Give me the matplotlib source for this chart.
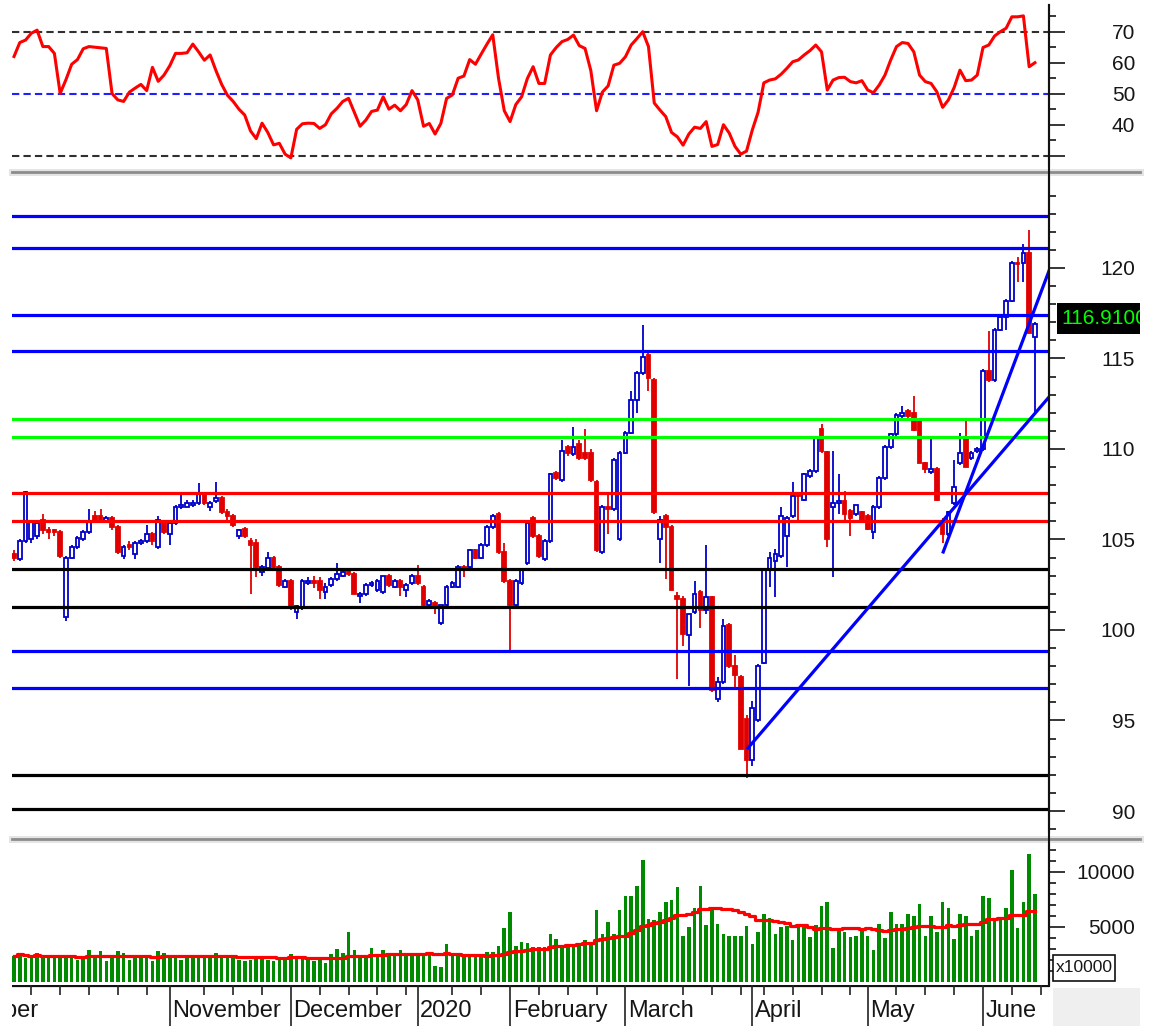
import numpy as np
import pandas as pd
import matplotlib
matplotlib.use("Agg")
import matplotlib.pyplot as plt
from matplotlib.lines import Line2D
from matplotlib.patches import Rectangle

plt.rcParams['font.family'] = ['Liberation Sans', 'DejaVu Sans']

# ---- daily bars (late Sep 2019 .. mid June 2020) ----
opens = [104.2, 103.9, 104.9, 105.0, 105.2, 106.1, 105.5, 105.5, 105.4, 100.7,
         104.0, 104.6, 105.0, 105.4, 106.3, 106.3, 106.0, 106.2, 105.7, 104.1,
         104.7, 104.2, 104.8, 104.9, 105.3, 104.6, 106.0, 105.3, 105.9, 106.8,
         106.8, 106.9, 107.0, 107.5, 106.8, 107.1, 107.3, 106.5, 106.3, 105.2,
         105.6, 104.9, 104.8, 103.2, 103.4, 104.0, 103.5, 102.4, 102.7, 101.0,
         101.2, 102.6, 102.7, 102.7, 102.1, 102.5, 102.8, 103.0, 103.3, 103.1,
         101.9, 102.0, 102.5, 102.2, 102.1, 103.0, 102.4, 102.7, 102.2, 102.6,
         103.0, 102.4, 101.4, 101.5, 100.4, 101.4, 102.4, 102.4, 103.5, 103.5,
         104.4, 104.0, 104.7, 105.7, 106.4, 104.3, 102.7, 101.4, 102.6, 103.7,
         106.2, 105.2, 103.9, 104.9, 108.7, 108.3, 110.1, 109.7, 110.3, 109.8,
         109.8, 108.2, 104.3, 106.8, 106.7, 105.0, 109.8, 110.9, 112.7, 114.2,
         115.2, 113.8, 105.0, 106.3, 105.7, 101.9, 101.7, 99.7, 101.0, 102.1,
         101.1, 101.8, 96.2, 97.1, 100.3, 98.0, 97.4, 95.1, 92.8, 95.0,
         98.2, 103.3, 103.8, 104.1, 105.2, 106.3, 107.55, 107.2, 108.5, 108.8,
         111.1, 109.85, 106.8, 107.0, 107.1, 106.6, 106.4, 106.5, 106.3, 105.4,
         106.8, 108.4, 110.1, 110.8, 111.8, 112.1, 112.0, 111.6, 109.2, 108.75,
         108.9, 106.0, 105.3, 107.0, 109.2, 110.6, 109.5, 109.9, 110.0, 114.3,
         113.8, 116.6, 117.3, 118.2, 120.3, 120.3, 120.8, 116.2]
highs = [104.4, 105.0, 107.7, 106.1, 106.0, 106.4, 105.7, 105.6, 105.5, 104.1,
         104.7, 105.2, 105.5, 106.7, 106.6, 106.7, 106.3, 106.3, 105.8, 104.7,
         104.9, 104.9, 105.0, 105.8, 105.4, 106.3, 106.1, 106.0, 106.9, 107.5,
         107.2, 107.2, 108.1, 107.6, 107.1, 108.2, 107.4, 106.7, 106.4, 105.6,
         105.7, 105.1, 105.0, 103.6, 104.3, 104.1, 103.6, 102.8, 102.8, 101.4,
         102.8, 102.9, 103.0, 102.9, 102.6, 102.9, 103.7, 103.3, 103.4, 103.2,
         102.1, 102.6, 102.7, 102.8, 103.0, 103.1, 102.8, 102.8, 102.6, 103.1,
         103.6, 102.5, 101.7, 101.6, 101.4, 102.5, 102.7, 103.6, 103.6, 104.5,
         104.5, 104.8, 105.8, 106.4, 106.5, 104.8, 102.8, 102.8, 103.4, 106.0,
         106.3, 105.3, 105.0, 108.7, 108.8, 110.5, 110.2, 111.2, 110.5, 111.1,
         110.0, 108.3, 106.9, 107.5, 109.5, 109.9, 111.0, 113.2, 114.3, 116.85,
         115.3, 113.9, 106.3, 106.4, 105.8, 102.1, 101.9, 100.9, 102.7, 102.2,
         104.7, 101.9, 97.4, 100.6, 100.4, 98.6, 97.5, 95.3, 96.1, 98.1,
         103.4, 104.3, 104.5, 106.8, 106.3, 108.2, 107.6, 108.7, 108.9, 110.7,
         111.4, 109.9, 109.9, 108.6, 107.7, 106.7, 106.9, 106.6, 106.4, 106.9,
         108.5, 110.2, 110.9, 112.0, 112.4, 112.2, 112.9, 111.7, 109.3, 110.6,
         109.0, 106.2, 106.6, 109.4, 110.9, 111.6, 109.9, 110.1, 114.4, 116.5,
         116.7, 117.4, 118.3, 120.4, 120.6, 121.3, 122.1, 117.0]
lows = [103.8, 103.8, 104.8, 104.8, 105.0, 105.3, 105.0, 105.2, 104.0, 100.5,
        103.9, 104.5, 104.9, 105.3, 106.0, 105.9, 105.9, 105.5, 104.2, 103.9,
        104.4, 103.9, 104.7, 104.8, 104.7, 104.5, 105.3, 104.7, 105.8, 106.7,
        106.8, 106.8, 106.9, 106.9, 106.6, 107.0, 106.4, 106.1, 105.7, 105.0,
        105.1, 102.0, 102.9, 103.0, 103.3, 103.4, 102.4, 102.3, 101.1, 100.6,
        101.1, 102.5, 102.3, 101.7, 101.7, 102.4, 102.7, 102.9, 103.0, 102.0,
        101.5, 101.9, 102.4, 102.1, 102.0, 102.4, 102.3, 101.9, 101.8, 102.5,
        102.5, 101.3, 101.3, 100.9, 100.3, 101.3, 102.3, 102.3, 102.9, 103.4,
        103.9, 103.9, 104.6, 105.6, 104.2, 102.6, 98.9, 101.3, 102.5, 103.6,
        105.1, 104.0, 103.8, 104.8, 108.3, 108.2, 109.6, 109.6, 109.4, 109.4,
        108.2, 104.3, 104.2, 105.3, 106.6, 104.9, 109.7, 110.8, 112.0, 114.1,
        113.2, 106.4, 103.7, 102.8, 102.2, 97.3, 99.1, 96.9, 100.9, 100.1,
        100.9, 96.6, 96.0, 97.0, 97.9, 96.7, 93.4, 91.8, 92.5, 94.9,
        98.1, 102.4, 101.8, 104.0, 103.5, 106.2, 105.9, 107.1, 108.4, 108.7,
        109.8, 104.6, 102.9, 106.4, 106.1, 105.2, 106.3, 105.9, 105.5, 105.0,
        106.7, 108.3, 110.0, 110.7, 111.7, 111.7, 111.0, 109.2, 108.7, 108.6,
        107.1, 104.8, 105.2, 106.9, 109.1, 109.0, 109.4, 109.8, 109.9, 113.7,
        113.7, 116.5, 116.6, 118.1, 119.2, 119.2, 116.4, 112.0]
closes = [104.0, 104.9, 107.6, 106.0, 105.9, 105.5, 105.4, 105.4, 104.1, 104.0,
          104.6, 105.1, 105.4, 106.0, 106.1, 106.1, 106.2, 105.7, 104.3, 104.6,
          104.6, 104.8, 104.9, 105.3, 104.9, 106.1, 105.4, 105.9, 106.8, 106.9,
          107.0, 107.0, 107.5, 107.0, 107.0, 107.3, 106.5, 106.3, 105.8, 105.5,
          105.2, 104.7, 103.5, 103.5, 104.0, 103.5, 102.5, 102.7, 101.2, 101.3,
          102.7, 102.7, 102.6, 102.2, 102.4, 102.8, 103.1, 103.2, 103.1, 102.0,
          102.0, 102.5, 102.6, 102.7, 103.0, 102.5, 102.7, 102.4, 102.5, 103.0,
          102.6, 101.4, 101.6, 101.3, 101.4, 102.4, 102.6, 103.5, 103.4, 104.4,
          104.0, 104.7, 105.7, 106.3, 104.3, 102.7, 101.4, 102.7, 103.3, 105.9,
          105.2, 104.1, 104.9, 108.6, 108.4, 109.9, 109.8, 110.1, 109.5, 109.5,
          108.3, 104.4, 106.8, 106.7, 109.4, 109.8, 110.9, 112.7, 114.2, 115.1,
          113.9, 106.5, 106.1, 105.7, 102.2, 101.7, 99.8, 100.9, 102.0, 101.1,
          101.8, 96.7, 97.1, 100.2, 98.0, 97.5, 93.4, 92.8, 95.7, 98.0,
          103.3, 104.0, 104.2, 106.3, 106.2, 107.4, 107.4, 108.6, 108.8, 110.6,
          109.9, 105.0, 107.0, 107.1, 106.4, 106.2, 106.9, 106.0, 105.6, 106.8,
          108.4, 110.1, 110.85, 111.9, 112.0, 111.8, 111.05, 109.2, 108.9, 108.9,
          107.2, 105.3, 106.5, 107.9, 109.8, 109.0, 109.8, 110.0, 114.3, 113.8,
          116.6, 117.3, 118.2, 120.3, 120.2, 120.8, 116.4, 116.91]

# volume in units of 10000
volumes = [2300, 2650, 2200, 2250, 2650, 2200, 2200, 2200, 2200, 2200,
           2200, 2000, 2200, 2850, 2200, 2750, 1900, 2200, 2750, 2650,
           1950, 2200, 2200, 2200, 1850, 2800, 2650, 2300, 2300, 2000,
           2350, 2350, 2350, 2250, 2300, 2650, 2250, 2200, 2200, 2000,
           1900, 2000, 2200, 2200, 2000, 1900, 2200, 2200, 2550, 2200,
           2200, 2100, 1900, 2000, 1700, 2500, 2950, 2600, 4550, 2900,
           2300, 2300, 3100, 2300, 2900, 2400, 2300, 2900, 2350, 2300,
           2300, 2500, 2550, 1450, 1300, 3400, 2350, 2350, 2300, 2300,
           2300, 2300, 2700, 2700, 3250, 4900, 6350, 3250, 3650, 3500,
           3200, 3200, 3200, 4350, 3850, 3350, 3350, 3340, 3340, 3790,
           3640, 6520, 4340, 5460, 4340, 6520, 7790, 7790, 8700, 11060,
           5670, 5610, 6370, 7280, 7430, 8580, 4150, 4940, 6670, 8700,
           5150, 6580, 5240, 4340, 4150, 4150, 4150, 5060, 3430, 4550,
           6160, 5760, 4340, 4940, 5060, 3790, 5060, 4940, 4030, 5150,
           6880, 7280, 3030, 4700, 4550, 4030, 4150, 4700, 4150, 2880,
           5240, 3940, 6370, 5240, 5240, 6160, 5970, 7070, 4150, 5970,
           4550, 7280, 6670, 3850, 6160, 5970, 4150, 4700, 7790, 7580,
           5670, 5670, 6670, 10150, 4850, 7280, 11610, 7970]

rsi = [62.0, 66.5, 67.3, 69.5, 70.5, 65.2, 65.2, 63.0, 50.1, 54.5,
       59.5, 61.0, 64.5, 65.2, 65.0, 64.8, 64.6, 50.0, 48.0, 47.5,
       50.5, 51.8, 53.0, 51.0, 58.5, 54.0, 56.0, 59.0, 63.0, 63.0,
       63.2, 66.0, 63.5, 60.8, 62.5, 57.5, 53.0, 49.5, 47.5, 45.0,
       43.1, 38.0, 35.5, 40.5, 37.5, 33.5, 34.0, 30.5, 29.3, 38.5,
       40.3, 40.5, 40.4, 38.8, 40.0, 43.5, 45.3, 47.5, 48.5, 44.0,
       39.5, 41.5, 44.3, 44.7, 49.0, 45.0, 46.3, 44.5, 46.5, 51.0,
       48.0, 39.5, 40.4, 37.0, 40.4, 48.5, 49.6, 55.0, 55.7, 61.0,
       59.5, 62.8, 66.0, 69.0, 55.0, 44.5, 41.0, 46.5, 49.0, 54.9,
       58.7, 53.3, 53.3, 62.5, 64.9, 66.8, 67.5, 68.9, 65.5, 64.6,
       57.5, 44.5, 50.5, 52.5, 59.2, 59.8, 61.9, 65.7, 67.8, 70.0,
       65.2, 47.0, 44.7, 42.6, 37.5, 36.1, 33.4, 37.0, 39.2, 38.8,
       41.0, 33.0, 33.6, 40.0, 37.3, 33.0, 30.5, 31.5, 38.3, 44.0,
       53.5, 54.4, 54.8, 56.3, 58.2, 60.3, 60.9, 62.5, 63.9, 65.7,
       63.5, 51.2, 54.4, 55.2, 55.3, 53.9, 53.5, 54.2, 51.2, 50.3,
       52.8, 56.0, 60.9, 65.2, 66.5, 66.2, 63.5, 56.0, 53.9, 53.3,
       50.6, 45.6, 48.0, 52.0, 57.6, 54.2, 54.4, 56.0, 64.9, 65.7,
       68.6, 70.0, 71.1, 74.8, 74.8, 75.1, 58.7, 60.0]

# month boundaries (bar index of first bar) and weekly ticks
month_labels = ['November', 'December', '2020', 'February', 'March', 'April', 'May', 'June']
month_start = [27, 48, 70, 86, 106, 128, 148, 168]
week_ticks = [3, 8, 13, 18, 23, 33, 38, 43, 53, 58, 63, 68, 76, 81, 91, 96,
              101, 116, 121, 126, 130, 135, 140, 145, 153, 158, 163, 173, 178]

# horizontal support / resistance levels
levels = [122.87, 121.1, 117.4, 115.4, 111.66, 110.66, 107.57, 106.0,
          103.37, 101.27, 98.84, 96.8, 92.0, 90.1]
level_colors = ['#0000ff', '#0000ff', '#0000ff', '#0000ff', '#00ff00', '#00ff00',
                '#ff0000', '#ff0000', '#000000', '#000000', '#0000ff', '#0000ff',
                '#000000', '#000000']

# trend lines: (x0, y0, x1, y1) in bar index / price
trends = [(127.25, 93.48, 179.44, 112.87),
          (161.1, 104.31, 179.44, 119.84)]

last_close = closes[-1]

# ---- layout helpers (pixel boxes) ----
W, H = 1152, 1026
def box(x0, y0, x1, y1):
    return [x0 / W, 1 - y1 / H, (x1 - x0) / W, (y1 - y0) / H]

fig = plt.figure(figsize=(W / 100, H / 100), dpi=100)
fig.patch.set_facecolor('white')

x = np.arange(len(closes))
XLIM = (-0.35, 179.44)
TXT = '#161616'

ax_rsi = fig.add_axes(box(12, 5, 1049, 166))
ax_px = fig.add_axes(box(12, 176, 1049, 832))
ax_vol = fig.add_axes(box(12, 843, 1049, 985))
ax_dt = fig.add_axes(box(12, 985, 1049, 1026))

def style_panel(ax, majors, labels, minors):
    ax.set_xlim(*XLIM)
    for s in ['top', 'left', 'bottom']:
        ax.spines[s].set_visible(False)
    ax.spines['right'].set_linewidth(1.5)
    ax.set_xticks([])
    ax.yaxis.tick_right()
    ax.set_yticks(majors)
    ax.set_yticklabels(labels, ha='right')
    ax.set_yticks(minors, minor=True)
    ax.tick_params(axis='y', which='major', length=11.5, width=1.1,
                   pad=50.5, labelsize=15, labelcolor=TXT)
    ax.tick_params(axis='y', which='minor', length=5, width=1.1)

# ---- RSI panel ----
ax_rsi.plot(x, rsi, color='#ff0000', lw=2.2, zorder=3)
ax_rsi.axhline(70, color='#303030', lw=1.5, dashes=(3.5, 2))
ax_rsi.axhline(50, color='#2020ff', lw=1.5, dashes=(3.5, 2))
ax_rsi.axhline(30, color='#303030', lw=1.5, dashes=(3.5, 2))
ax_rsi.set_ylim(26.68, 78.61)
style_panel(ax_rsi, [30, 40, 50, 60, 70], ['', '40', '50', '60', '70'],
            [35, 45, 55, 65, 75])

# ---- price panel ----
o = np.array(opens); h = np.array(highs); l = np.array(lows); c = np.array(closes)
up = c >= o
edge = np.where(up, '#0000c8', '#e00000')
face = np.where(up, 'white', '#e00000')
ax_px.vlines(x, l, h, colors=edge, lw=1.3, zorder=2)
ax_px.bar(x, np.maximum(np.abs(c - o), 0.06), bottom=np.minimum(o, c), width=0.64,
          color=face, edgecolor=edge, linewidth=1.3, zorder=3)
for lv, col in zip(levels, level_colors):
    ax_px.axhline(lv, color=col, lw=2.3, zorder=4)
for x0, y0, x1, y1 in trends:
    ax_px.plot([x0, x1], [y0, y1], color='#0000ff', lw=2.3, zorder=5)
ax_px.set_ylim(88.84, 125.08)
style_panel(ax_px, [90, 95, 100, 105, 110, 115, 120],
            ['90', '95', '100', '105', '110', '115', '120'],
            [v for v in range(89, 126) if v % 5])

# ---- volume panel ----
ma = pd.Series(volumes).rolling(20, min_periods=1).mean()
ax_vol.bar(x, volumes, width=0.62, color='#008a00', zorder=2)
ax_vol.plot(x, ma, color='#ff0000', lw=2.3, drawstyle='steps-mid', zorder=3)
ax_vol.set_ylim(-300, 12610)
style_panel(ax_vol, [5000, 10000], ['5000', '10000'],
            [v for v in range(1000, 13000, 1000) if v % 5000])

# ---- date strip ----
ax_dt.set_xlim(*XLIM)
ax_dt.set_ylim(41, 0)
ax_dt.axis('off')
ax_dt.axhline(0.5, color='#111111', lw=1.6)
ax_dt.vlines(week_ticks, 0, 10, color='#222222', lw=1.2)
ax_dt.vlines(month_start, 0, 41, color='#222222', lw=1.2)
for pos, lab in zip(month_start, month_labels):
    ax_dt.text(pos + 0.45, 31.7, lab, fontsize=17, color=TXT, va='baseline',
               ha='left', clip_on=True)
# label of the previous month, mostly outside the left edge
ax_dt.text(4.3, 31.7, 'October', fontsize=17, color=TXT, va='baseline',
           ha='right', clip_on=True)

# ---- frame pieces ----
for py in (171.5, 838.5):
    fig.add_artist(Line2D([12 / W, 1140 / W], [1 - py / H] * 2, color='#e4e4e4', lw=5))
    fig.add_artist(Line2D([12 / W, 1140 / W], [1 - py / H] * 2, color='#8c8c8c', lw=2.0))
fig.add_artist(Line2D([1049 / W] * 2, [1 - 5 / H, 1 - 986 / H], color='#111111', lw=1.5))
fig.add_artist(Rectangle((1053 / W, 0), 87 / W, 38 / H, transform=fig.transFigure,
                         facecolor='#efefef', edgecolor='none'))

# x10000 unit box
fig.add_artist(Rectangle((1053 / W, 1 - 981 / H), 62 / W, 26 / H, transform=fig.transFigure,
                         facecolor='white', edgecolor='#111111', lw=1.2))
fig.text(1056 / W, 1 - 968 / H, 'x10000', fontsize=12.5, color=TXT, va='center')

# last close label
ax_lbl = fig.add_axes(box(1057, 303, 1140, 334))
ax_lbl.set_facecolor('black')
ax_lbl.set_xticks([]); ax_lbl.set_yticks([])
for s in ax_lbl.spines.values():
    s.set_visible(False)
ax_lbl.text(0.05, 0.5, f'{last_close:.4f}', transform=ax_lbl.transAxes, color='#00ff00',
            fontsize=15, va='center', ha='left', clip_on=True)

fig.savefig('out.png', dpi=100)
